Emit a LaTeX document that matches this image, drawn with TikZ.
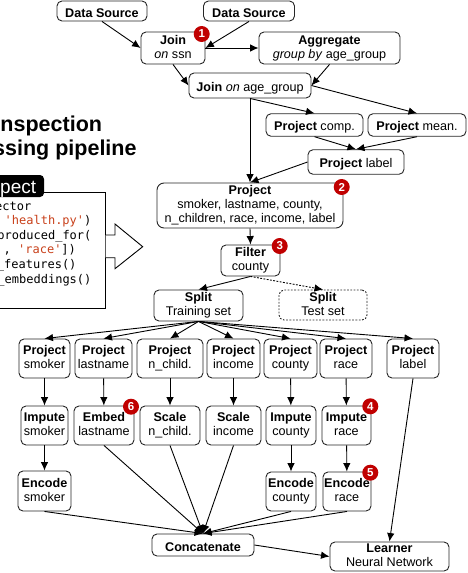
\documentclass[tikz,border=0pt]{standalone}
\usepackage{fontspec}
\setmainfont{Liberation Sans}
\setmonofont{DejaVu Sans Mono}
\usepackage{tikz}
\usetikzlibrary{arrows.meta}
\definecolor{badgecolor}{HTML}{C00000}
\definecolor{strcolor}{HTML}{C8401A}
\newcommand{\opname}[1]{\textbf{#1}}
\tikzset{
  opbox/.style={draw=black!85, line width=0.9pt, rounded corners=5pt, align=center, inner sep=0pt,
    font=\fontsize{12.6}{14}\selectfont,
    execute at begin node={\rule{0pt}{14.5pt}},
    execute at end node={\rule[-2.5pt]{0pt}{0pt}}},
  opline/.style={-{Latex[length=8.5pt,width=7.5pt]}, line width=0.9pt, black},
  badge/.style={circle, fill=badgecolor, text=white, minimum size=16pt, inner sep=0pt,
    font=\fontsize{11.5}{12}\selectfont\bfseries},
  codeline/.style={anchor=base west, inner sep=0pt, font=\ttfamily\fontsize{12}{13}\selectfont},
  titleline/.style={anchor=base west, inner sep=0pt, font=\fontsize{21.5}{23}\selectfont\bfseries}
}

\begin{document}
\begin{tikzpicture}[x=1pt, y=-1pt]
\clip (0,0) rectangle (468,573);
%top of the pipeline
\node[opbox, minimum width=90, minimum height=20] (source1) at (102,11) {\opname{Data Source}};
\node[opbox, minimum width=91, minimum height=20] (source2) at (249,11) {\opname{Data Source}};
\node[opbox, minimum width=64, minimum height=32] (joinssn) at (173,48) {\opname{Join}\\\textit{on} ssn};
\node[opbox, minimum width=141, minimum height=32] (aggregate) at (329.5,48) {\opname{Aggregate}\\\textit{group by} age\_group};
\node[opbox, minimum width=122, minimum height=25] (joinage) at (250,85.5) {\opname{Join} \textit{on} age\_group};
\node[opbox, minimum width=97, minimum height=22.5] (projcomp) at (314.5,125) {\opname{Project} comp.};
\node[opbox, minimum width=98, minimum height=22.5] (projmean) at (417,125) {\opname{Project} mean.};
\node[opbox, minimum width=96, minimum height=24.5] (projlabel) at (356,162) {\opname{Project} label};
\node[opbox, rounded corners=7pt, minimum width=186, minimum height=45] (projall) at (250,205.5) {\opname{Project}\\smoker, lastname, county,\\n\_children, race, income, label};
\node[opbox, minimum width=59, minimum height=31] (filter) at (250.5,260.5) {\opname{Filter}\\county};
\node[opbox, minimum width=89, minimum height=31] (splittrain) at (198.5,305.5) {\opname{Split}\\Training set};
\node[opbox, dash pattern=on 1.8pt off 1.5pt, minimum width=88, minimum height=30] (splittest) at (323,305) {\opname{Split}\\Test set};
%first row of columns
\node[opbox, minimum width=51, minimum height=39] (psmoker) at (44.5,358.5) {\opname{Project}\\smoker};
\node[opbox, minimum width=57, minimum height=39] (plastname) at (103.5,358.5) {\opname{Project}\\lastname};
\node[opbox, minimum width=66, minimum height=39] (pchild) at (170,358.5) {\opname{Project}\\n\_child.};
\node[opbox, minimum width=53, minimum height=39] (pincome) at (233.5,358.5) {\opname{Project}\\income};
\node[opbox, minimum width=53, minimum height=39] (pcounty) at (290.5,358.5) {\opname{Project}\\county};
\node[opbox, minimum width=52, minimum height=39] (prace) at (346,358.5) {\opname{Project}\\race};
\node[opbox, minimum width=52, minimum height=39] (plabel) at (413,358.5) {\opname{Project}\\label};
%second row
\node[opbox, minimum width=47, minimum height=39] (ismoker) at (44.5,425.5) {\opname{Impute}\\smoker};
\node[opbox, minimum width=60, minimum height=39] (elastname) at (104,425.5) {\opname{Embed}\\lastname};
\node[opbox, minimum width=60, minimum height=39] (schild) at (170,425.5) {\opname{Scale}\\n\_child.};
\node[opbox, minimum width=55, minimum height=39] (sincome) at (233.5,425.5) {\opname{Scale}\\income};
\node[opbox, minimum width=50, minimum height=39] (icounty) at (291,425.5) {\opname{Impute}\\county};
\node[opbox, minimum width=49, minimum height=39] (irace) at (346.5,425.5) {\opname{Impute}\\race};
%third row
\node[opbox, minimum width=53, minimum height=40] (esmoker) at (44.5,491) {\opname{Encode}\\smoker};
\node[opbox, minimum width=50, minimum height=39] (ecounty) at (291,491.5) {\opname{Encode}\\county};
\node[opbox, minimum width=48, minimum height=39] (erace) at (347,491.5) {\opname{Encode}\\race};
%bottom
\node[opbox, minimum width=102, minimum height=22] (concat) at (203,545) {\opname{Concatenate}};
\node[opbox, minimum width=119, minimum height=29] (learner) at (389.5,556.5) {\opname{Learner}\\Neural Network};
%connectors
\draw[opline] (source1.south) -- (joinssn.west);
\draw[opline] (source2.south) -- (joinssn.east);
\draw[opline] (joinssn.east) -- (aggregate.west);
\draw[opline] (joinssn.south) -- (joinage.west);
\draw[opline] (aggregate.south) -- (joinage.east);
\draw[opline] (joinage.south) -- (projcomp.north);
\draw[opline] (joinage.east) -- (projmean.north);
\draw[opline] (joinage.south) -- (projall.north);
\draw[opline] (projcomp.south) -- (projlabel.north);
\draw[opline] (projmean.south) -- (projlabel.north);
\draw[opline] (projlabel.west) -- (projall.north);
\draw[opline] (projall.south) -- (filter.north);
\draw[opline] (filter.south) -- (splittrain.north);
\draw[opline, dash pattern=on 1.8pt off 1.5pt] (filter.south) -- (splittest.north);
\foreach \col in {psmoker,plastname,pchild,pincome,pcounty,prace,plabel}
  \draw[opline] (splittrain.south) -- (\col.north);
\draw[opline] (psmoker) -- (ismoker);
\draw[opline] (ismoker) -- (esmoker);
\draw[opline] (plastname) -- (elastname);
\draw[opline] (pchild) -- (schild);
\draw[opline] (pincome) -- (sincome);
\draw[opline] (pcounty) -- (icounty);
\draw[opline] (icounty) -- (ecounty);
\draw[opline] (prace) -- (irace);
\draw[opline] (irace) -- (erace);
\foreach \col in {esmoker,elastname,schild,sincome,ecounty,erace}
  \draw[opline] (\col.south) -- (concat.north);
\draw[opline] (concat.east) -- (learner.west);
\draw[opline] (plabel.south) -- (learner.north);
%badges
\node[badge] (badge1) at (201.7,34) {1};
\node[badge] (badge2) at (341.7,187) {2};
\node[badge] (badge3) at (279.7,246) {3};
\node[badge] (badge4) at (370.3,406.3) {4};
\node[badge] (badge5) at (370.3,472.7) {5};
\node[badge] (badge6) at (131,406.7) {6};
%title
\node[titleline] (title1) at (0.3,131) {nspection};
\node[titleline] (title2) at (-7,155) {ssing pipeline};
%code panel
\draw[line width=0.9pt] (0,192) -- (105.7,192) -- (105.7,308) -- (0,308);
\fill[black, rounded corners=4pt] (-10,175) rectangle (44,197);
\node[anchor=base west, inner sep=0pt, text=white, font=\fontsize{19}{20}\selectfont] (tabtext) at (0,193) {pect};
\node[codeline] (code1) at (-5,210) {ector};
\node[codeline] (code2) at (4.5,224.4) {\textcolor{strcolor}{'health.py'})};
\node[codeline] (code3) at (-2.7,239.2) {produced\_for(};
\node[codeline] (code4) at (3.5,253.7) {, \textcolor{strcolor}{'race'}])};
\node[codeline] (code5) at (-3.2,268.3) {\_features()};
\node[codeline] (code6) at (-2.7,283) {\_embeddings()};
%block arrow
\draw[line width=0.9pt, fill=white] (105.7,235) -- (115,235) -- (115,224) -- (142.7,246.7) -- (115,268.7) -- (115,257.7) -- (105.7,257.7);
\end{tikzpicture}
\end{document}
